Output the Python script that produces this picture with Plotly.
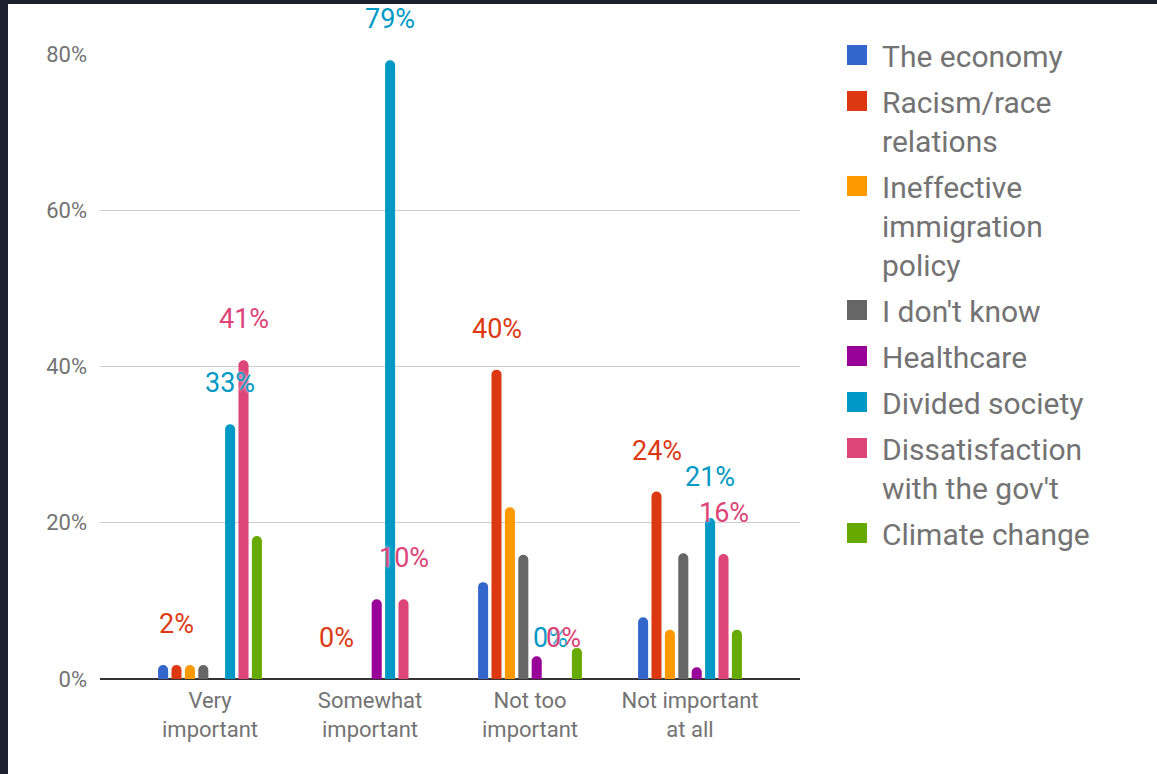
import plotly.graph_objects as go

# ---- data ----
categories = ["Very<br>important", "Somewhat<br>important", "Not too<br>important", "Not important<br>at all"]
series_names = [
    "The economy",
    "Racism/race<br>relations",
    "Ineffective<br>immigration<br>policy",
    "I don't know",
    "Healthcare",
    "Divided society",
    "Dissatisfaction<br>with the gov't",
    "Climate change",
]
economy = [1.8, 0, 12.4, 7.9]
racism = [1.8, 0, 39.6, 24.0]
immigration = [1.8, 0, 22.0, 6.3]
dont_know = [1.8, 0, 15.9, 16.1]
healthcare = [0, 10.2, 2.9, 1.5]
divided = [32.6, 79.2, 0, 20.6]
dissatisfaction = [40.8, 10.2, 0, 16.0]
climate = [18.3, 0, 4.0, 6.3]
series_values = [economy, racism, immigration, dont_know, healthcare, divided, dissatisfaction, climate]
colors = ["#3366cc", "#dc3912", "#ff9900", "#666666", "#990099", "#0099c6", "#dd4477", "#66aa00"]
labeled_series = [1, 5, 6]  # series that carry value labels
y_ticks = [0, 20, 40, 60, 80]
y_tick_text = ["0%", "20%", "40%", "60%", "80%"]

# ---- layout constants ----
W, H = 1157, 774
ML, MR, MT, MB = 100, 357, 54, 95
BARGAP = 0.33
BARGROUPGAP = 0.25
XRANGE = [-0.6875, 3.6875]
TEXT_GRAY = "#737373"
FONT = "Roboto, Arial, sans-serif"

fig = go.Figure()
n = len(series_values)
for i, (name, vals, col) in enumerate(zip(series_names, series_values, colors)):
    fig.add_trace(go.Bar(
        x=categories, y=vals, name=name.replace("<br>", " "),
        marker=dict(color=col, cornerradius=5, line=dict(width=0)),
        showlegend=False, hoverinfo="y",
    ))
    # legend proxy (larger square symbol than the bar legend icon)
    fig.add_trace(go.Scatter(
        x=[None], y=[None], mode="markers", name=name,
        marker=dict(symbol="square", size=16, color=col, line=dict(width=4, color=col)),
        legendgroup=f"g{i}", showlegend=True, hoverinfo="skip",
    ))

# value labels
plot_w = W - ML - MR
plot_h = H - MT - MB
px_per_unit = plot_w / (XRANGE[1] - XRANGE[0])
slot_px = px_per_unit * (1 - BARGAP) / n
annotations = []
for i in labeled_series:
    for c, v in zip(categories, series_values[i]):
        annotations.append(dict(
            x=c, y=v, xref="x", yref="y", text=f"{v:.0f}%", showarrow=False,
            xshift=(i - (n - 1) / 2) * slot_px, yshift=41, yanchor="middle",
            font=dict(family=FONT, size=27, color=colors[i], shadow="0px 0px 3px white"),
        ))

frame = "#1c2130"
shapes = [
    dict(type="rect", xref="paper", yref="paper", x0=-1, x1=(8 - ML) / plot_w, y0=-1, y1=3,
         fillcolor=frame, line=dict(width=0), layer="above"),
    dict(type="rect", xref="paper", yref="paper", x0=-1, x1=3,
         y0=(plot_h + MT - 4) / plot_h, y1=3,
         fillcolor=frame, line=dict(width=0), layer="above"),
]

fig.update_layout(
    width=W, height=H,
    margin=dict(l=ML, r=MR, t=MT, b=MB, pad=0),
    paper_bgcolor="white", plot_bgcolor="white",
    barmode="group", bargap=BARGAP, bargroupgap=BARGROUPGAP,
    font=dict(family=FONT, color=TEXT_GRAY),
    xaxis=dict(range=XRANGE, categoryorder="array", categoryarray=categories,
               showgrid=False, showline=False, ticks="", zeroline=False,
               ticklabelstandoff=6,
               tickfont=dict(size=22, color=TEXT_GRAY)),
    yaxis=dict(range=[0, 80], tickvals=y_ticks, ticktext=y_tick_text,
               showgrid=True, gridcolor="#cccccc", gridwidth=1,
               zeroline=True, zerolinecolor="#333333", zerolinewidth=2,
               showline=False, ticks="", ticklabelstandoff=12,
               tickfont=dict(size=22, color=TEXT_GRAY)),
    legend=dict(x=(832 - ML) / plot_w, xanchor="left", y=1.04, yanchor="top",
                font=dict(size=30, color=TEXT_GRAY), valign="top",
                itemwidth=40, itemclick=False, itemdoubleclick=False,
                tracegroupgap=4, bgcolor="rgba(0,0,0,0)", traceorder="grouped",
                maxheight=760),
    annotations=annotations,
    shapes=shapes,
    showlegend=True,
)

fig.write_html(
    "out.html",
    config={"displayModeBar": False},
    post_script="document.body.style.margin='0';document.documentElement.style.overflow='hidden';",
)
